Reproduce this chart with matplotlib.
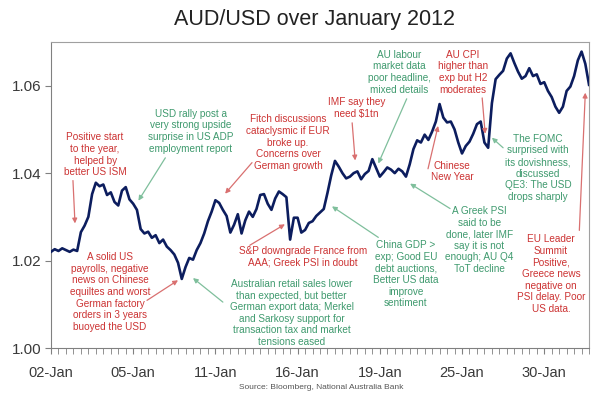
#!/usr/bin/env python3
# AUD/USD over January 2012, annotated
import matplotlib
matplotlib.use("Agg")
import matplotlib.pyplot as plt
from matplotlib.ticker import MultipleLocator

plt.rcParams["font.family"] = ["Liberation Sans", "DejaVu Sans"]

# half-step samples (11 steps of 1 unit between each date label)
step = 0.5
audusd = [
    1.0220, 1.0226, 1.0222, 1.0228, 1.0224, 1.0220, 1.0225, 1.0222, 1.0265, 1.0280,
    1.0300, 1.0352, 1.0378, 1.0370, 1.0374, 1.0350, 1.0356, 1.0334, 1.0326, 1.0360,
    1.0368, 1.0340, 1.0330, 1.0316, 1.0272, 1.0262, 1.0266, 1.0252, 1.0258, 1.0240,
    1.0248, 1.0232, 1.0224, 1.0214, 1.0195, 1.0158, 1.0185, 1.0206, 1.0202, 1.0224,
    1.0240, 1.0262, 1.0290, 1.0312, 1.0338, 1.0332, 1.0316, 1.0302, 1.0264, 1.0282,
    1.0306, 1.0262, 1.0292, 1.0312, 1.0300, 1.0318, 1.0350, 1.0352, 1.0330, 1.0316,
    1.0342, 1.0358, 1.0352, 1.0345, 1.0248, 1.0298, 1.0298, 1.0264, 1.0270, 1.0286,
    1.0290, 1.0302, 1.0310, 1.0318, 1.0355, 1.0395, 1.0428, 1.0415, 1.0400, 1.0388,
    1.0392, 1.0400, 1.0404, 1.0386, 1.0398, 1.0405, 1.0432, 1.0412, 1.0392, 1.0402,
    1.0413, 1.0408, 1.0400, 1.0410, 1.0404, 1.0392, 1.0420, 1.0455, 1.0475, 1.0470,
    1.0488, 1.0476, 1.0495, 1.0518, 1.0558, 1.0527, 1.0516, 1.0518, 1.0500, 1.0470,
    1.0445, 1.0462, 1.0472, 1.0490, 1.0512, 1.0518, 1.0470, 1.0458, 1.0560, 1.0615,
    1.0625, 1.0634, 1.0662, 1.0674, 1.0652, 1.0632, 1.0616, 1.0622, 1.0640, 1.0622,
    1.0626, 1.0604, 1.0608, 1.0588, 1.0574, 1.0552, 1.0538, 1.0552, 1.0588, 1.0598,
    1.0622, 1.0658, 1.0678, 1.0650, 1.0602,
]
date_labels = ["02-Jan", "05-Jan", "11-Jan", "16-Jan", "19-Jan", "25-Jan", "30-Jan"]

RED = "#cc3333"
GREEN = "#3f9a6e"
RED_ARROW = "#d97070"
GREEN_ARROW = "#7fbf9c"

# (text, colour, text centre, arrow tail, arrow tip)
notes = [
    ("Positive start\nto the year,\nhelped by\nbetter US ISM", "r",
     (5.9, 1.0442), (2.94, 1.0383), (3.21, 1.0285)),
    ("USD rally post a\nvery strong upside\nsurprise in US ADP\nemployment report", "g",
     (18.7, 1.0496), (15.3, 1.0435), (11.7, 1.0337)),
    ("Fitch discussions\ncataclysmic if EUR\nbroke up.\nConcerns over\nGerman growth", "r",
     (31.7, 1.0470), (26.9, 1.0424), (23.3, 1.0353)),
    ("IMF say they\nneed $1tn", "r",
     (40.9, 1.0549), (40.3, 1.0515), (40.7, 1.0429)),
    ("AU labour\nmarket data\npoor headline,\nmixed details", "g",
     (46.6, 1.0631), (47.6, 1.0570), (43.8, 1.0422)),
    ("AU CPI\nhigher than\nexp but H2\nmoderates", "r",
     (55.1, 1.0631), (57.7, 1.0572), (58.1, 1.0490)),
    ("Chinese\nNew Year", "r",
     (53.7, 1.0404), (50.45, 1.0410), (51.8, 1.0508)),
    ("The FOMC\nsurprised with\nits dovishness,\ndiscussed\nQE3: The USD\ndrops sharply", "g",
     (65.2, 1.0412), (60.5, 1.0458), (59.0, 1.0481)),
    ("A Greek PSI\nsaid to be\ndone, later IMF\nsay it is not\nenough; AU Q4\nToT decline", "g",
     (57.3, 1.0247), (53.4, 1.0319), (48.05, 1.0376)),
    ("EU Leader\nSummit\nPositive,\nGreece news\nnegative on\nPSI delay. Poor\nUS data.", "r",
     (66.9, 1.0169), (70.7, 1.0269), (71.5, 1.0584)),
    ("China GDP >\nexp; Good EU\ndebt auctions,\nBetter US data\nimprove\nsentiment", "g",
     (47.5, 1.0169), (43.8, 1.0253), (37.6, 1.0324)),
    ("S&P downgrade France from\nAAA; Greek PSI in doubt", "r",
     (33.7, 1.0208), (26.6, 1.0235), (31.3, 1.0283)),
    ("Australian retail sales lower\nthan expected, but better\nGerman export data; Merkel\n"
     "and Sarkosy support for\ntransaction tax and market\ntensions eased", "g",
     (32.2, 1.0080), (23.0, 1.0105), (19.0, 1.0160)),
    ("A solid US\npayrolls, negative\nnews on Chinese\nequiltes and worst\nGerman factory\n"
     "orders in 3 years\nbuoyed the USD", "r",
     (7.9, 1.0128), (12.85, 1.0109), (17.0, 1.0155)),
]

fig = plt.figure(figsize=(5.95, 3.96), dpi=100)
ax = fig.add_axes([0.0857, 0.1212, 0.9043, 0.7728])

x = [i * step for i in range(len(audusd))]
ax.plot(x, audusd, color="#0c1d5e", lw=1.9, zorder=3)

ax.set_xlim(0, 72)
ax.set_ylim(1.00, 1.07)
ax.set_yticks([1.00, 1.02, 1.04, 1.06])
ax.set_yticklabels(["1.00", "1.02", "1.04", "1.06"])
ax.set_xticks([11 * i for i in range(len(date_labels))])
ax.set_xticklabels(date_labels)
ax.xaxis.set_minor_locator(MultipleLocator(1))
ax.tick_params(axis="y", length=4, color="#808080", labelsize=11,
               labelcolor="#3a3a3a", pad=3)
ax.tick_params(axis="x", which="both", direction="out", length=4,
               color="#808080", labelsize=10.5, labelcolor="#3a3a3a", pad=9)
for side in ["left", "bottom"]:
    ax.spines[side].set_color("#808080")
for side in ["top", "right"]:
    ax.spines[side].set_color("#a0a0a0")

for text, col, tpos, tail, tip in notes:
    tc = RED if col == "r" else GREEN
    ac = RED_ARROW if col == "r" else GREEN_ARROW
    ax.text(tpos[0], tpos[1], text, color=tc, fontsize=7.2, ha="center",
            va="center", multialignment="center", linespacing=1.2, zorder=4)
    ax.annotate("", xy=tip, xytext=tail,
                arrowprops=dict(arrowstyle="-|>", color=ac, lw=0.9,
                                mutation_scale=7, shrinkA=0, shrinkB=0))

fig.text(0.528, 0.95, "AUD/USD over January 2012", ha="center", va="center",
         fontsize=15.5, color="#222222")
fig.text(0.54, 0.013, "Source: Bloomberg, National Australia Bank", ha="center",
         va="bottom", fontsize=6, color="#555555")

fig.savefig("out.png", dpi=100)
